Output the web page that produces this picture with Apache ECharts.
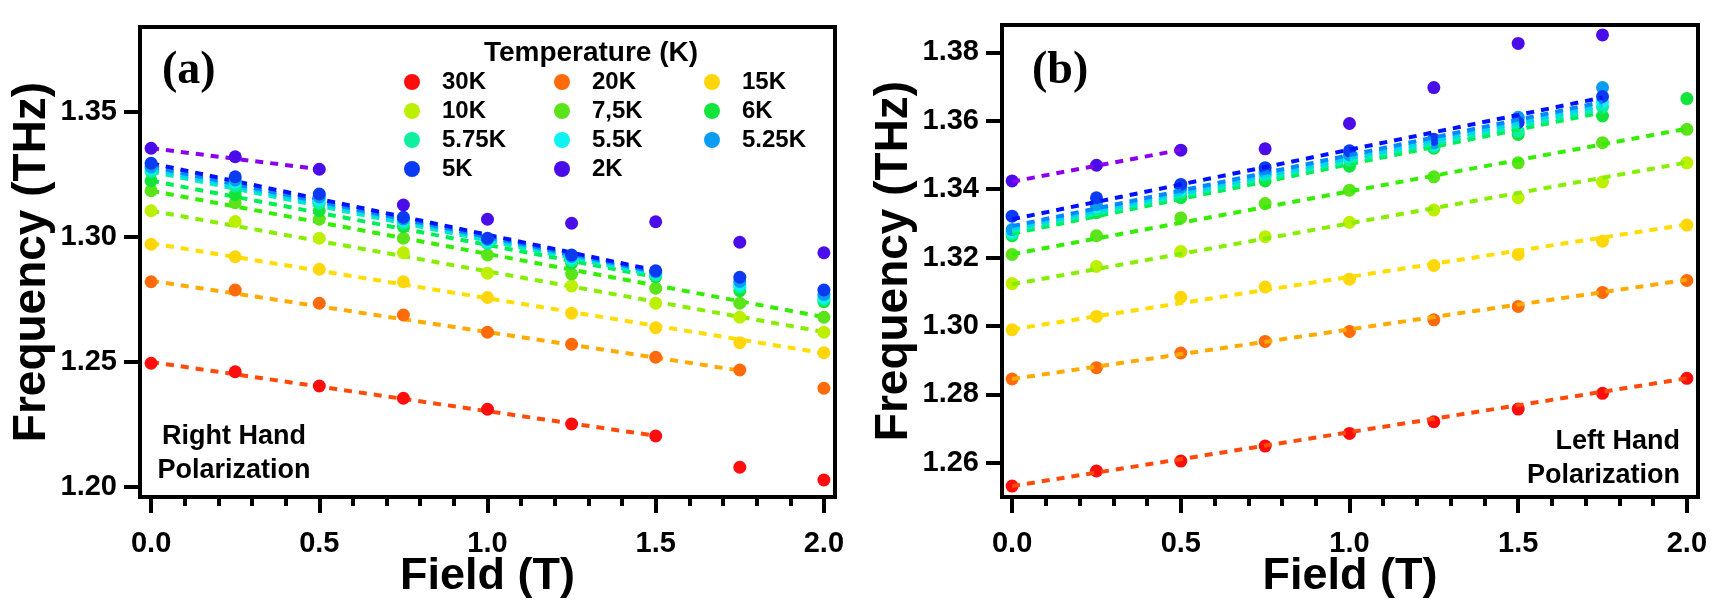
<!DOCTYPE html>
<html>
<head>
<meta charset="utf-8">
<title>Frequency vs Field</title>
<script src="https://cdn.jsdelivr.net/npm/echarts@6/dist/echarts.min.js"></script>
<style>
  body { margin: 0; background: #fff; }
  #chart { width: 1725px; height: 600px; }
</style>
</head>
<body>
<div id="chart"></div>
<script>
// 磁场 (T)
const fields = [0, 0.25, 0.5, 0.75, 1.0, 1.25, 1.5, 1.75, 2.0];
const temps = ['30K', '20K', '15K', '10K', '7,5K', '6K', '5.75K', '5.5K', '5.25K', '5K', '2K'];

// (a) Right Hand Polarization
const rh_30K  = [1.2495, 1.2461, 1.2404, 1.2355, 1.2311, 1.2252, 1.2204, 1.2079, 1.2028];
const rh_20K  = [1.2821, 1.2788, 1.2735, 1.2688, 1.2619, 1.2571, 1.2519, 1.2468, 1.2395];
const rh_15K  = [1.2971, 1.2921, 1.2871, 1.2821, 1.2758, 1.2695, 1.2637, 1.2577, 1.2537];
const rh_10K  = [1.3105, 1.3062, 1.2995, 1.2937, 1.2855, 1.2804, 1.2735, 1.2679, 1.2619];
const rh_7_5K = [1.3185, 1.3137, 1.3071, 1.2995, 1.2928, 1.2852, 1.2795, 1.2735, 1.2679];
const rh_6K   = [1.3225, 1.3170, 1.3105, 1.3041, 1.2975, 1.2895, 1.2841, 1.2785, 1.2741];
const rh_5_75K = [1.3262, 1.3205, 1.3135, 1.3055, 1.2975, 1.2905, 1.2848, 1.2800, 1.2750];
const rh_5_5K  = [1.3272, 1.3218, 1.3148, 1.3065, 1.2983, 1.2915, 1.2855, 1.2810, 1.2758];
const rh_5_25K = [1.3280, 1.3228, 1.3160, 1.3072, 1.2990, 1.2922, 1.2860, 1.2822, 1.2770];
const rh_5K   = [1.3295, 1.3241, 1.3172, 1.3079, 1.2995, 1.2928, 1.2865, 1.2839, 1.2788];
const rh_2K   = [1.3355, 1.3321, 1.3271, 1.3128, 1.3071, 1.3055, 1.3061, 1.2979, 1.2937];
// 拟合线: 从 0 T 到 rhFitEnd
const rhFitEnd = [1.5, 1.75, 2, 2, 2, 1.5, 1.5, 1.5, 1.5, 1.5, 0.5];
const rhFitY0  = [1.2500, 1.2825, 1.2975, 1.3105, 1.3185, 1.3225, 1.3262, 1.3272, 1.3282, 1.3295, 1.3355];
const rhFitY1  = [1.2205, 1.2466, 1.2535, 1.2620, 1.2680, 1.2840, 1.2848, 1.2855, 1.2860, 1.2866, 1.3271];

// (b) Left Hand Polarization
const lh_30K  = [1.2532, 1.2576, 1.2605, 1.2649, 1.2686, 1.2720, 1.2757, 1.2803, 1.2847];
const lh_20K  = [1.2845, 1.2878, 1.2921, 1.2955, 1.2984, 1.3018, 1.3057, 1.3098, 1.3133];
const lh_15K  = [1.2989, 1.3028, 1.3084, 1.3114, 1.3137, 1.3177, 1.3209, 1.3248, 1.3295];
const lh_10K  = [1.3124, 1.3174, 1.3218, 1.3261, 1.3303, 1.3339, 1.3375, 1.3421, 1.3477];
const lh_7_5K = [1.3209, 1.3264, 1.3316, 1.3358, 1.3397, 1.3436, 1.3477, 1.3536, 1.3575];
const lh_6K   = [1.3264, 1.3331, 1.3375, 1.3424, 1.3467, 1.3520, 1.3560, 1.3614, 1.3665];
const lh_5_75K = [1.3270, 1.3340, 1.3390, 1.3438, 1.3485, 1.3525, 1.3570, 1.3640, null];
const lh_5_5K  = [1.3275, 1.3348, 1.3398, 1.3445, 1.3495, 1.3530, 1.3605, 1.3655, null];
const lh_5_25K = [1.3282, 1.3355, 1.3405, 1.3450, 1.3500, 1.3535, 1.3610, 1.3697, null];
const lh_5K   = [1.3321, 1.3375, 1.3414, 1.3463, 1.3512, 1.3546, 1.3595, 1.3671, null];
const lh_2K   = [1.3424, 1.3470, 1.3514, 1.3518, 1.3592, 1.3697, 1.3826, 1.3851, null];
const lhFitEnd = [2, 2, 2, 2, 2, 1.75, 1.75, 1.75, 1.75, 1.75, 0.5];
const lhFitY0  = [1.2532, 1.2845, 1.2990, 1.3122, 1.3210, 1.3270, 1.3278, 1.3285, 1.3292, 1.3312, 1.3422];
const lhFitY1  = [1.2847, 1.3135, 1.3297, 1.3478, 1.3577, 1.3625, 1.3635, 1.3645, 1.3655, 1.3668, 1.3515];

// 刻度
const xMajor = [0, 0.5, 1.0, 1.5, 2.0];
const xMinor = [0.1, 0.2, 0.3, 0.4, 0.6, 0.7, 0.8, 0.9, 1.1, 1.2, 1.3, 1.4, 1.6, 1.7, 1.8, 1.9];
const yTicksA = [1.20, 1.25, 1.30, 1.35];
const yTicksB = [1.26, 1.28, 1.30, 1.32, 1.34, 1.36, 1.38];

const markerColors = ['#ff0d0d', '#ff6a0a', '#ffd60a', '#bdf000', '#5ce41a', '#12e43a', '#0ef0a0', '#0ef2f2', '#0a9cf0', '#0a3af2', '#4a0ce8'];
const fitColors    = ['#ff4a0a', '#ffaa00', '#ffdd00', '#88ee00', '#33ee00', '#00ee55', '#00eebb', '#00d4f0', '#0088ff', '#0011ff', '#8a00ee'];

const sans = 'Liberation Sans, Arial, sans-serif';
const rhSets = [rh_30K, rh_20K, rh_15K, rh_10K, rh_7_5K, rh_6K, rh_5_75K, rh_5_5K, rh_5_25K, rh_5K, rh_2K];
const lhSets = [lh_30K, lh_20K, lh_15K, lh_10K, lh_7_5K, lh_6K, lh_5_75K, lh_5_5K, lh_5_25K, lh_5K, lh_2K];

function toPoints(vals) {
    return fields.map((f, i) => vals[i] == null ? null : [f, vals[i]]).filter(p => p);
}

// 每个温度: 散点 + 虚线拟合
function buildSeries(panel, sets, fitEnd, fitY0, fitY1, lineOnTop) {
    let list = [];
    sets.forEach((vals, i) => {
        list.push({
            name: temps[i],
            type: 'scatter',
            xAxisIndex: panel * 2,
            yAxisIndex: panel,
            data: toPoints(vals),
            symbolSize: 13,
            itemStyle: { color: markerColors[i], opacity: 1 },
            emphasis: { disabled: true },
            z: lineOnTop ? 2 : 3
        });
        list.push({
            name: temps[i] + ' fit',
            type: 'line',
            xAxisIndex: panel * 2,
            yAxisIndex: panel,
            data: [[0, fitY0[i]], [fitEnd[i], fitY1[i]]],
            symbol: 'none',
            silent: true,
            lineStyle: { color: fitColors[i], width: 4, type: [8, 7] },
            z: lineOnTop ? 3 : 2
        });
    });
    return list;
}

function xAxisMajor(grid, min) {
    return {
        gridIndex: grid, type: 'value', position: 'bottom', min: min, max: 2.033,
        axisLine: { onZero: false, lineStyle: { color: '#000', width: 4 } },
        axisTick: { customValues: xMajor, length: 16, lineStyle: { color: '#000', width: 4 } },
        axisLabel: {
            customValues: xMajor, margin: 32, color: '#000', fontSize: 29, fontWeight: 'bold', fontFamily: sans,
            formatter: v => v.toFixed(1)
        },
        splitLine: { show: false },
        name: 'Field (T)', nameLocation: 'middle', nameGap: 57, nameMoveOverlap: false,
        nameTextStyle: { color: '#000', fontSize: 45, fontWeight: 'bold', fontFamily: sans }
    };
}
function xAxisMinor(grid, min) {
    return {
        gridIndex: grid, type: 'value', position: 'bottom', min: min, max: 2.033,
        axisLine: { show: false, onZero: false },
        axisTick: { customValues: xMinor, length: 9, lineStyle: { color: '#000', width: 4 } },
        axisLabel: { show: false },
        splitLine: { show: false }
    };
}
function yAxisOf(grid, min, max, ticks) {
    return {
        gridIndex: grid, type: 'value', position: 'left', min: min, max: max,
        axisLine: { onZero: false, lineStyle: { color: '#000', width: 4 } },
        axisTick: { customValues: ticks, length: 16, lineStyle: { color: '#000', width: 4 } },
        axisLabel: {
            customValues: ticks, margin: 23, color: '#000', fontSize: 29, fontWeight: 'bold', fontFamily: sans,
            formatter: v => v.toFixed(2)
        },
        splitLine: { show: false },
        name: 'Frequency (THz)', nameLocation: 'middle', nameGap: 85, nameMoveOverlap: false,
        nameTextStyle: { color: '#000', fontSize: 46, fontWeight: 'bold', fontFamily: sans }
    };
}

function legendColumn(left, names) {
    return {
        orient: 'vertical', left: left, top: 70, padding: 0, itemGap: 5,
        itemWidth: 16, itemHeight: 16, icon: 'circle', selectedMode: false,
        data: names,
        textStyle: { color: '#000', fontSize: 24, fontWeight: 'bold', fontFamily: sans, lineHeight: 24, padding: [0, 0, 0, 17] }
    };
}

const chart = echarts.init(document.getElementById('chart'));
const option = {
    animation: false,
    backgroundColor: '#fff',
    grid: [
        { left: 140, top: 27, width: 695, height: 470, show: true, borderColor: '#000', borderWidth: 4, outerBoundsMode: 'none' },
        { left: 1002, top: 25, width: 696, height: 472, show: true, borderColor: '#000', borderWidth: 4, outerBoundsMode: 'none' }
    ],
    xAxis: [xAxisMajor(0, -0.033), xAxisMinor(0, -0.033), xAxisMajor(1, -0.030), xAxisMinor(1, -0.030)],
    yAxis: [yAxisOf(0, 1.196, 1.384, yTicksA), yAxisOf(1, 1.250, 1.388, yTicksB)],
    legend: [
        legendColumn(404, ['30K', '10K', '5.75K', '5K']),
        legendColumn(554, ['20K', '7,5K', '5.5K', '2K']),
        legendColumn(704, ['15K', '6K', '5.25K'])
    ],
    graphic: [
        { type: 'text', x: 162, y: 71, style: { text: '(a)', font: 'bold 46px Liberation Serif', fill: '#000', verticalAlign: 'middle' } },
        { type: 'text', x: 1032, y: 71, style: { text: '(b)', font: 'bold 46px Liberation Serif', fill: '#000', verticalAlign: 'middle' } },
        { type: 'text', x: 591, y: 53, style: { text: 'Temperature (K)', font: 'bold 28px Liberation Sans', fill: '#000', align: 'center', verticalAlign: 'middle' } },
        { type: 'text', x: 234, y: 454, style: { text: 'Right Hand\nPolarization', font: 'bold 27px Liberation Sans', lineHeight: 34, fill: '#000', align: 'center', verticalAlign: 'middle' } },
        { type: 'text', x: 1680, y: 459, style: { text: 'Left Hand\nPolarization', font: 'bold 27px Liberation Sans', lineHeight: 34, fill: '#000', align: 'right', verticalAlign: 'middle' } }
    ],
    series: buildSeries(0, rhSets, rhFitEnd, rhFitY0, rhFitY1, false)
        .concat(buildSeries(1, lhSets, lhFitEnd, lhFitY0, lhFitY1, true))
};
chart.setOption(option);
</script>
</body>
</html>
